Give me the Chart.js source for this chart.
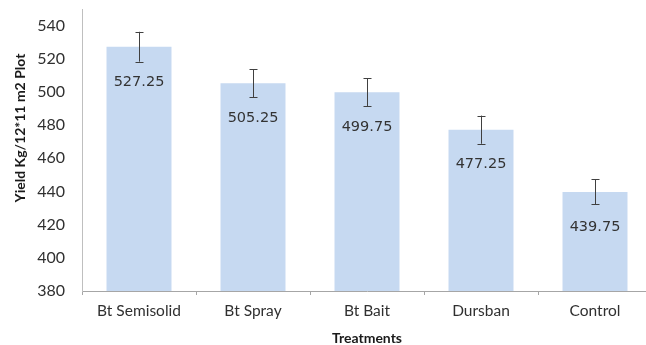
<!DOCTYPE html>
<html>
<head>
<meta charset="utf-8">
<script src="https://cdn.jsdelivr.net/npm/chart.js@4.4.1/dist/chart.umd.min.js"></script>
<style>
  html, body { margin: 0; padding: 0; background: #fff; overflow: hidden; }
  #wrap { width: 652px; height: 345px; position: relative; }
</style>
</head>
<body>
<div id="wrap"><canvas id="grafica"></canvas></div>
<script>
// datos
var tratamientos = ['Bt Semisolid', 'Bt Spray', 'Bt Bait', 'Dursban', 'Control'];
var rendimiento = [527.25, 505.25, 499.75, 477.25, 439.75];
var errores = [9, 8.5, 8.5, 8.5, 7.5];
var ticksY = [380, 400, 420, 440, 460, 480, 500, 520, 540];
var tituloY = 'Yield Kg/12*11 m2 Plot';

// barras de error, etiquetas dentro de la barra y titulo del eje Y
var extras = {
    id: 'extras',
    afterDatasetsDraw: function(chart) {
        var ctx = chart.ctx;
        var yScale = chart.scales.y;
        var meta = chart.getDatasetMeta(0);
        ctx.save();
        meta.data.forEach(function(bar, i) {
            var v = rendimiento[i];
            var yTop = yScale.getPixelForValue(v + errores[i]);
            var yBot = yScale.getPixelForValue(v - errores[i]);
            var x = Math.round(bar.x) + 0.5;
            ctx.strokeStyle = '#404040';
            ctx.lineWidth = 1;
            ctx.beginPath();
            ctx.moveTo(x, yTop); ctx.lineTo(x, yBot);
            ctx.moveTo(x - 4, Math.round(yTop) + 0.5); ctx.lineTo(x + 4, Math.round(yTop) + 0.5);
            ctx.moveTo(x - 4, Math.round(yBot) + 0.5); ctx.lineTo(x + 4, Math.round(yBot) + 0.5);
            ctx.stroke();

            ctx.fillStyle = '#333333';
            ctx.font = '14.5px "DejaVu Sans"';
            ctx.textAlign = 'center';
            ctx.textBaseline = 'middle';
            ctx.fillText(v.toFixed(2), bar.x, bar.y + 35);
        });

        // titulo Y un poco por encima del centro, como en el original
        ctx.translate(20, 128);
        ctx.rotate(-Math.PI / 2);
        ctx.fillStyle = '#1a1a1a';
        ctx.font = 'bold 14px Lato';
        ctx.textAlign = 'center';
        ctx.textBaseline = 'middle';
        ctx.fillText(tituloY, 0, 0);
        ctx.restore();
    }
};

var ctx = document.getElementById('grafica').getContext('2d');
var myChart = new Chart(ctx, {
    type: 'bar',
    data: {
        labels: tratamientos,
        datasets: [{
            data: rendimiento,
            backgroundColor: '#c6d9f1',
            borderWidth: 0,
            barPercentage: 0.57,
            categoryPercentage: 1.0
        }]
    },
    options: {
        responsive: true,
        maintainAspectRatio: false,
        animation: false,
        layout: { padding: { top: 9, right: 0, bottom: 0, left: 0 } },
        plugins: {
            legend: { display: false },
            tooltip: { enabled: false }
        },
        scales: {
            x: {
                grid: { display: true, drawOnChartArea: false, drawTicks: true, tickLength: 4, offset: true, color: '#a6a6a6' },
                border: { display: true, color: '#a6a6a6' },
                ticks: { color: '#303030', font: { family: 'Lato', size: 15.5 }, padding: 7, maxRotation: 0 },
                title: { display: true, text: 'Treatments', color: '#1a1a1a', font: { family: 'Lato', size: 14, weight: 'bold', lineHeight: 1 }, padding: { top: 0, bottom: 0 } },
                afterFit: function(scale) { scale.height = 54; }
            },
            y: {
                min: 380,
                max: 550,
                grid: { display: false, drawTicks: false },
                border: { display: true, color: '#bfbfbf' },
                afterBuildTicks: function(scale) {
                    scale.ticks = ticksY.map(function(v) { return { value: v }; });
                },
                ticks: { color: '#303030', font: { family: 'Lato', size: 16 }, padding: 17 },
                afterFit: function(scale) {
                    scale.width = 82;
                    scale.paddingTop = 0;
                    scale.paddingBottom = 0;
                }
            }
        }
    },
    plugins: [extras]
});
</script>
</body>
</html>
